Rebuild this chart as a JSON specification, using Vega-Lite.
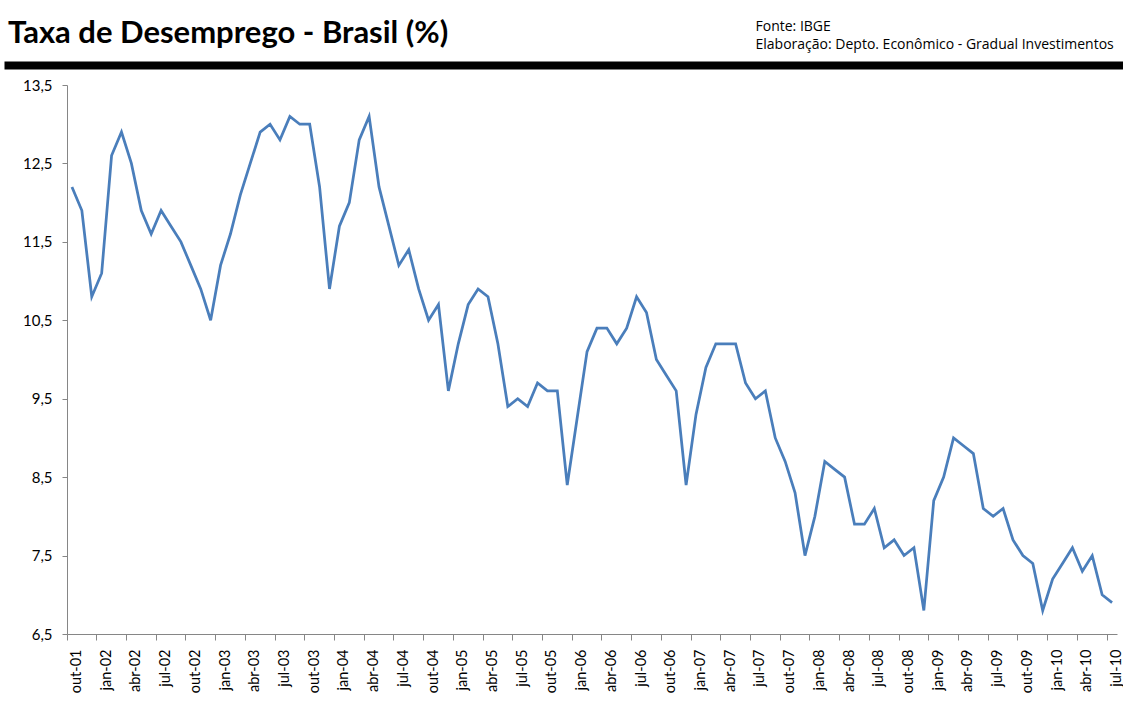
{
  "$schema": "https://vega.github.io/schema/vega-lite/v6.json",
  "width": 1119,
  "height": 549,
  "autosize": {"type": "none"},
  "padding": {"left": 4, "top": 85, "right": 0, "bottom": 73},
  "background": "white",
  "config": {"view": {"stroke": null}, "font": "Lato"},
  "title": {
    "text": "Taxa de Desemprego - Brasil (%)",
    "anchor": "start",
    "frame": "group",
    "font": "Lato",
    "fontSize": 31,
    "fontWeight": "bold",
    "color": "#000000",
    "dx": 4,
    "dy": 35
  },
  "data": {
    "values": [
      {"mes": "out-01", "taxa": 12.2}, {"mes": "nov-01", "taxa": 11.9}, {"mes": "dez-01", "taxa": 10.8},
      {"mes": "jan-02", "taxa": 11.1}, {"mes": "fev-02", "taxa": 12.6}, {"mes": "mar-02", "taxa": 12.9},
      {"mes": "abr-02", "taxa": 12.5}, {"mes": "mai-02", "taxa": 11.9}, {"mes": "jun-02", "taxa": 11.6},
      {"mes": "jul-02", "taxa": 11.9}, {"mes": "ago-02", "taxa": 11.7}, {"mes": "set-02", "taxa": 11.5},
      {"mes": "out-02", "taxa": 11.2}, {"mes": "nov-02", "taxa": 10.9}, {"mes": "dez-02", "taxa": 10.5},
      {"mes": "jan-03", "taxa": 11.2}, {"mes": "fev-03", "taxa": 11.6}, {"mes": "mar-03", "taxa": 12.1},
      {"mes": "abr-03", "taxa": 12.5}, {"mes": "mai-03", "taxa": 12.9}, {"mes": "jun-03", "taxa": 13.0},
      {"mes": "jul-03", "taxa": 12.8}, {"mes": "ago-03", "taxa": 13.1}, {"mes": "set-03", "taxa": 13.0},
      {"mes": "out-03", "taxa": 13.0}, {"mes": "nov-03", "taxa": 12.2}, {"mes": "dez-03", "taxa": 10.9},
      {"mes": "jan-04", "taxa": 11.7}, {"mes": "fev-04", "taxa": 12.0}, {"mes": "mar-04", "taxa": 12.8},
      {"mes": "abr-04", "taxa": 13.1}, {"mes": "mai-04", "taxa": 12.2}, {"mes": "jun-04", "taxa": 11.7},
      {"mes": "jul-04", "taxa": 11.2}, {"mes": "ago-04", "taxa": 11.4}, {"mes": "set-04", "taxa": 10.9},
      {"mes": "out-04", "taxa": 10.5}, {"mes": "nov-04", "taxa": 10.7}, {"mes": "dez-04", "taxa": 9.6},
      {"mes": "jan-05", "taxa": 10.2}, {"mes": "fev-05", "taxa": 10.7}, {"mes": "mar-05", "taxa": 10.9},
      {"mes": "abr-05", "taxa": 10.8}, {"mes": "mai-05", "taxa": 10.2}, {"mes": "jun-05", "taxa": 9.4},
      {"mes": "jul-05", "taxa": 9.5}, {"mes": "ago-05", "taxa": 9.4}, {"mes": "set-05", "taxa": 9.7},
      {"mes": "out-05", "taxa": 9.6}, {"mes": "nov-05", "taxa": 9.6}, {"mes": "dez-05", "taxa": 8.4},
      {"mes": "jan-06", "taxa": 9.25}, {"mes": "fev-06", "taxa": 10.1}, {"mes": "mar-06", "taxa": 10.4},
      {"mes": "abr-06", "taxa": 10.4}, {"mes": "mai-06", "taxa": 10.2}, {"mes": "jun-06", "taxa": 10.4},
      {"mes": "jul-06", "taxa": 10.8}, {"mes": "ago-06", "taxa": 10.6}, {"mes": "set-06", "taxa": 10.0},
      {"mes": "out-06", "taxa": 9.8}, {"mes": "nov-06", "taxa": 9.6}, {"mes": "dez-06", "taxa": 8.4},
      {"mes": "jan-07", "taxa": 9.3}, {"mes": "fev-07", "taxa": 9.9}, {"mes": "mar-07", "taxa": 10.2},
      {"mes": "abr-07", "taxa": 10.2}, {"mes": "mai-07", "taxa": 10.2}, {"mes": "jun-07", "taxa": 9.7},
      {"mes": "jul-07", "taxa": 9.5}, {"mes": "ago-07", "taxa": 9.6}, {"mes": "set-07", "taxa": 9.0},
      {"mes": "out-07", "taxa": 8.7}, {"mes": "nov-07", "taxa": 8.3}, {"mes": "dez-07", "taxa": 7.5},
      {"mes": "jan-08", "taxa": 8.0}, {"mes": "fev-08", "taxa": 8.7}, {"mes": "mar-08", "taxa": 8.6},
      {"mes": "abr-08", "taxa": 8.5}, {"mes": "mai-08", "taxa": 7.9}, {"mes": "jun-08", "taxa": 7.9},
      {"mes": "jul-08", "taxa": 8.1}, {"mes": "ago-08", "taxa": 7.6}, {"mes": "set-08", "taxa": 7.7},
      {"mes": "out-08", "taxa": 7.5}, {"mes": "nov-08", "taxa": 7.6}, {"mes": "dez-08", "taxa": 6.8},
      {"mes": "jan-09", "taxa": 8.2}, {"mes": "fev-09", "taxa": 8.5}, {"mes": "mar-09", "taxa": 9.0},
      {"mes": "abr-09", "taxa": 8.9}, {"mes": "mai-09", "taxa": 8.8}, {"mes": "jun-09", "taxa": 8.1},
      {"mes": "jul-09", "taxa": 8.0}, {"mes": "ago-09", "taxa": 8.1}, {"mes": "set-09", "taxa": 7.7},
      {"mes": "out-09", "taxa": 7.5}, {"mes": "nov-09", "taxa": 7.4}, {"mes": "dez-09", "taxa": 6.8},
      {"mes": "jan-10", "taxa": 7.2}, {"mes": "fev-10", "taxa": 7.4}, {"mes": "mar-10", "taxa": 7.6},
      {"mes": "abr-10", "taxa": 7.3}, {"mes": "mai-10", "taxa": 7.5}, {"mes": "jun-10", "taxa": 7.0},
      {"mes": "jul-10", "taxa": 6.9}
    ]
  },
  "layer": [
    {
      "mark": {"type": "line", "color": "#4a7ebb", "strokeWidth": 2.75, "strokeJoin": "miter"},
      "encoding": {
        "x": {
          "field": "mes", "type": "ordinal", "sort": null, "bandPosition": 0.5,
          "scale": {"type": "band", "paddingInner": 0, "paddingOuter": 0, "range": [63, 1113]},
          "axis": {
            "orient": "bottom",
            "title": null,
            "domain": true,
            "domainColor": "#868686",
            "bandPosition": 0,
            "values": ["out-01","jan-02","abr-02","jul-02","out-02","jan-03","abr-03","jul-03","out-03","jan-04","abr-04","jul-04","out-04","jan-05","abr-05","jul-05","out-05","jan-06","abr-06","jul-06","out-06","jan-07","abr-07","jul-07","out-07","jan-08","abr-08","jul-08","out-08","jan-09","abr-09","jul-09","out-09","jan-10","abr-10","jul-10"],
            "labelAngle": -90,
            "labelOffset": 5,
            "labelPadding": 9,
            "labelFont": "Lato",
            "labelFontSize": 14.5,
            "labelColor": "#000000",
            "tickColor": "#868686",
            "tickSize": 6,
            "grid": false
          }
        },
        "y": {
          "field": "taxa", "type": "quantitative",
          "scale": {"domain": [6.5, 13.5], "nice": false, "zero": false},
          "axis": {
            "title": null,
            "offset": -63,
            "values": [6.5, 7.5, 8.5, 9.5, 10.5, 11.5, 12.5, 13.5],
            "labelExpr": "replace(format(datum.value, '.1f'), '.', ',')",
            "labelFont": "Lato",
            "labelFontSize": 15,
            "labelColor": "#000000",
            "labelPadding": 10,
            "domainColor": "#868686",
            "tickColor": "#868686",
            "tickSize": 5,
            "grid": false
          }
        }
      }
    },
    {
      "mark": {"type": "line", "opacity": 0},
      "encoding": {
        "x": {
          "field": "mes", "type": "ordinal", "sort": null,
          "scale": {"type": "point"},
          "axis": {
            "orient": "top",
            "offset": 20,
            "domainWidth": 8,
            "domainColor": "#000000",
            "ticks": false,
            "labels": false,
            "grid": false,
            "title": ["Fonte: IBGE", "Elaboração: Depto. Econômico - Gradual Investimentos"],
            "titleFont": "Open Sans",
            "titleFontSize": 14,
            "titleFontWeight": "normal",
            "titleColor": "#000000",
            "titleAngle": 0,
            "titleAlign": "left",
            "titleBaseline": "alphabetic",
            "titleLineHeight": 18,
            "titleX": 751,
            "titleY": -35
          }
        },
        "y": {"field": "taxa", "type": "quantitative"}
      }
    }
  ],
  "resolve": {"axis": {"x": "independent"}, "scale": {"x": "independent"}}
}
